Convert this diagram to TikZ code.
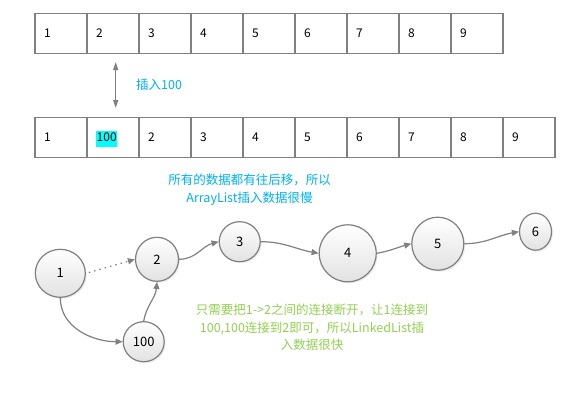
\documentclass[tikz,border=0pt]{standalone}
\usepackage{fontspec}
\setmainfont{Noto Sans CJK SC}
\usetikzlibrary{shapes.geometric,arrows.meta,shadows}
\definecolor{cellline}{HTML}{808080}
\definecolor{bluetext}{HTML}{00B0F0}
\definecolor{greentext}{HTML}{92D050}
\definecolor{hilite}{HTML}{00FFFF}
\definecolor{ballbottom}{HTML}{E2E2E2}
\newcommand{\hlnum}[1]{{\setlength{\fboxsep}{0.7pt}\colorbox{hilite}{\strut #1}}}

\begin{document}
\begin{tikzpicture}[x=1pt,y=1pt,
    cell/.style={draw=cellline, line width=1.2pt, minimum height=40pt, text width=34pt,
        inner xsep=9pt, inner ysep=0pt, align=left, text height=10.5pt, text depth=1.7pt,
        font=\fontsize{12}{15}\selectfont},
    ball/.style={ellipse, draw=cellline, line width=1.2pt, top color=white, bottom color=ballbottom,
        inner sep=0pt, font=\fontsize{13}{15}\selectfont,
        drop shadow={opacity=0.15, shadow xshift=1.5pt, shadow yshift=-1.5pt}},
    link/.style={draw=cellline, line width=1.2pt, -{Triangle[length=7pt,width=6pt]}},
    note/.style={align=center, font=\fontsize{12.5}{17.5}\selectfont}]

    \useasboundingbox (0,0) rectangle (570,-405);

    % ArrayList
    \foreach \v [count=\i] in {1,...,9}
        \node[cell] (a\i) at (9+52*\i, -33.3) {\v};
    \foreach \v [count=\i] in {1,{\hlnum{100}},2,3,4,5,6,7,8,9}
        \node[cell] (b\i) at (9+52*\i, -137.3) {\v};

    \coordinate (up) at (115.7,-62);
    \coordinate (dn) at (115.7,-108);
    \draw[cellline, line width=1.2pt, {Triangle[length=8pt,width=5pt]}-{Triangle[length=8pt,width=5pt]}] (up) -- (dn);
    \node[bluetext, anchor=west, inner sep=0pt, font=\fontsize{12.5}{15}\selectfont] (ins) at (136,-85) {插入100};

    \node[note, bluetext] (slow) at (249.5,-189.5) {所有的数据都有往后移，所以\\ArrayList插入数据很慢};

    % LinkedList
    \node[ball, minimum width=50pt, minimum height=48pt] (n1) at (60.3,-273.3) {1};
    \node[ball, minimum width=43pt, minimum height=44pt] (n2) at (157,-259.3) {2};
    \node[ball, minimum width=41pt, minimum height=40pt] (n3) at (239.7,-241.7) {3};
    \node[ball, minimum width=57pt, minimum height=57pt] (n4) at (347.7,-253.3) {4};
    \node[ball, minimum width=52pt, minimum height=53pt] (n5) at (437.8,-243.7) {5};
    \node[ball, minimum width=32pt, minimum height=37pt] (n6) at (535.5,-231.7) {6};
    \node[ball, minimum width=41pt, minimum height=40pt] (n100) at (143.7,-341.7) {100};

    \draw[link, dash pattern=on 1.5pt off 4pt, shorten <=3pt] (n1.east) -- (n2.west);
    \draw[link] (n2.east) to[out=0,in=195] (n3.west);
    \draw[link] (n3.east) to[out=0,in=170] (n4.west);
    \draw[link] (n4.east) to[out=10,in=195] (n5.west);
    \draw[link] (n5.east) to[out=0,in=190] (n6.west);
    \draw[link] (n1.south) to[out=-90,in=180] (n100.west);
    \draw[link] (n100.north) to[out=80,in=-95] (n2.south);

    \node[note, greentext] (fast) at (312,-327.5) {只需要把1->2之间的连接断开，让1连接到\\100,100连接到2即可，所以LinkedList插\\入数据很快};
\end{tikzpicture}
\end{document}
